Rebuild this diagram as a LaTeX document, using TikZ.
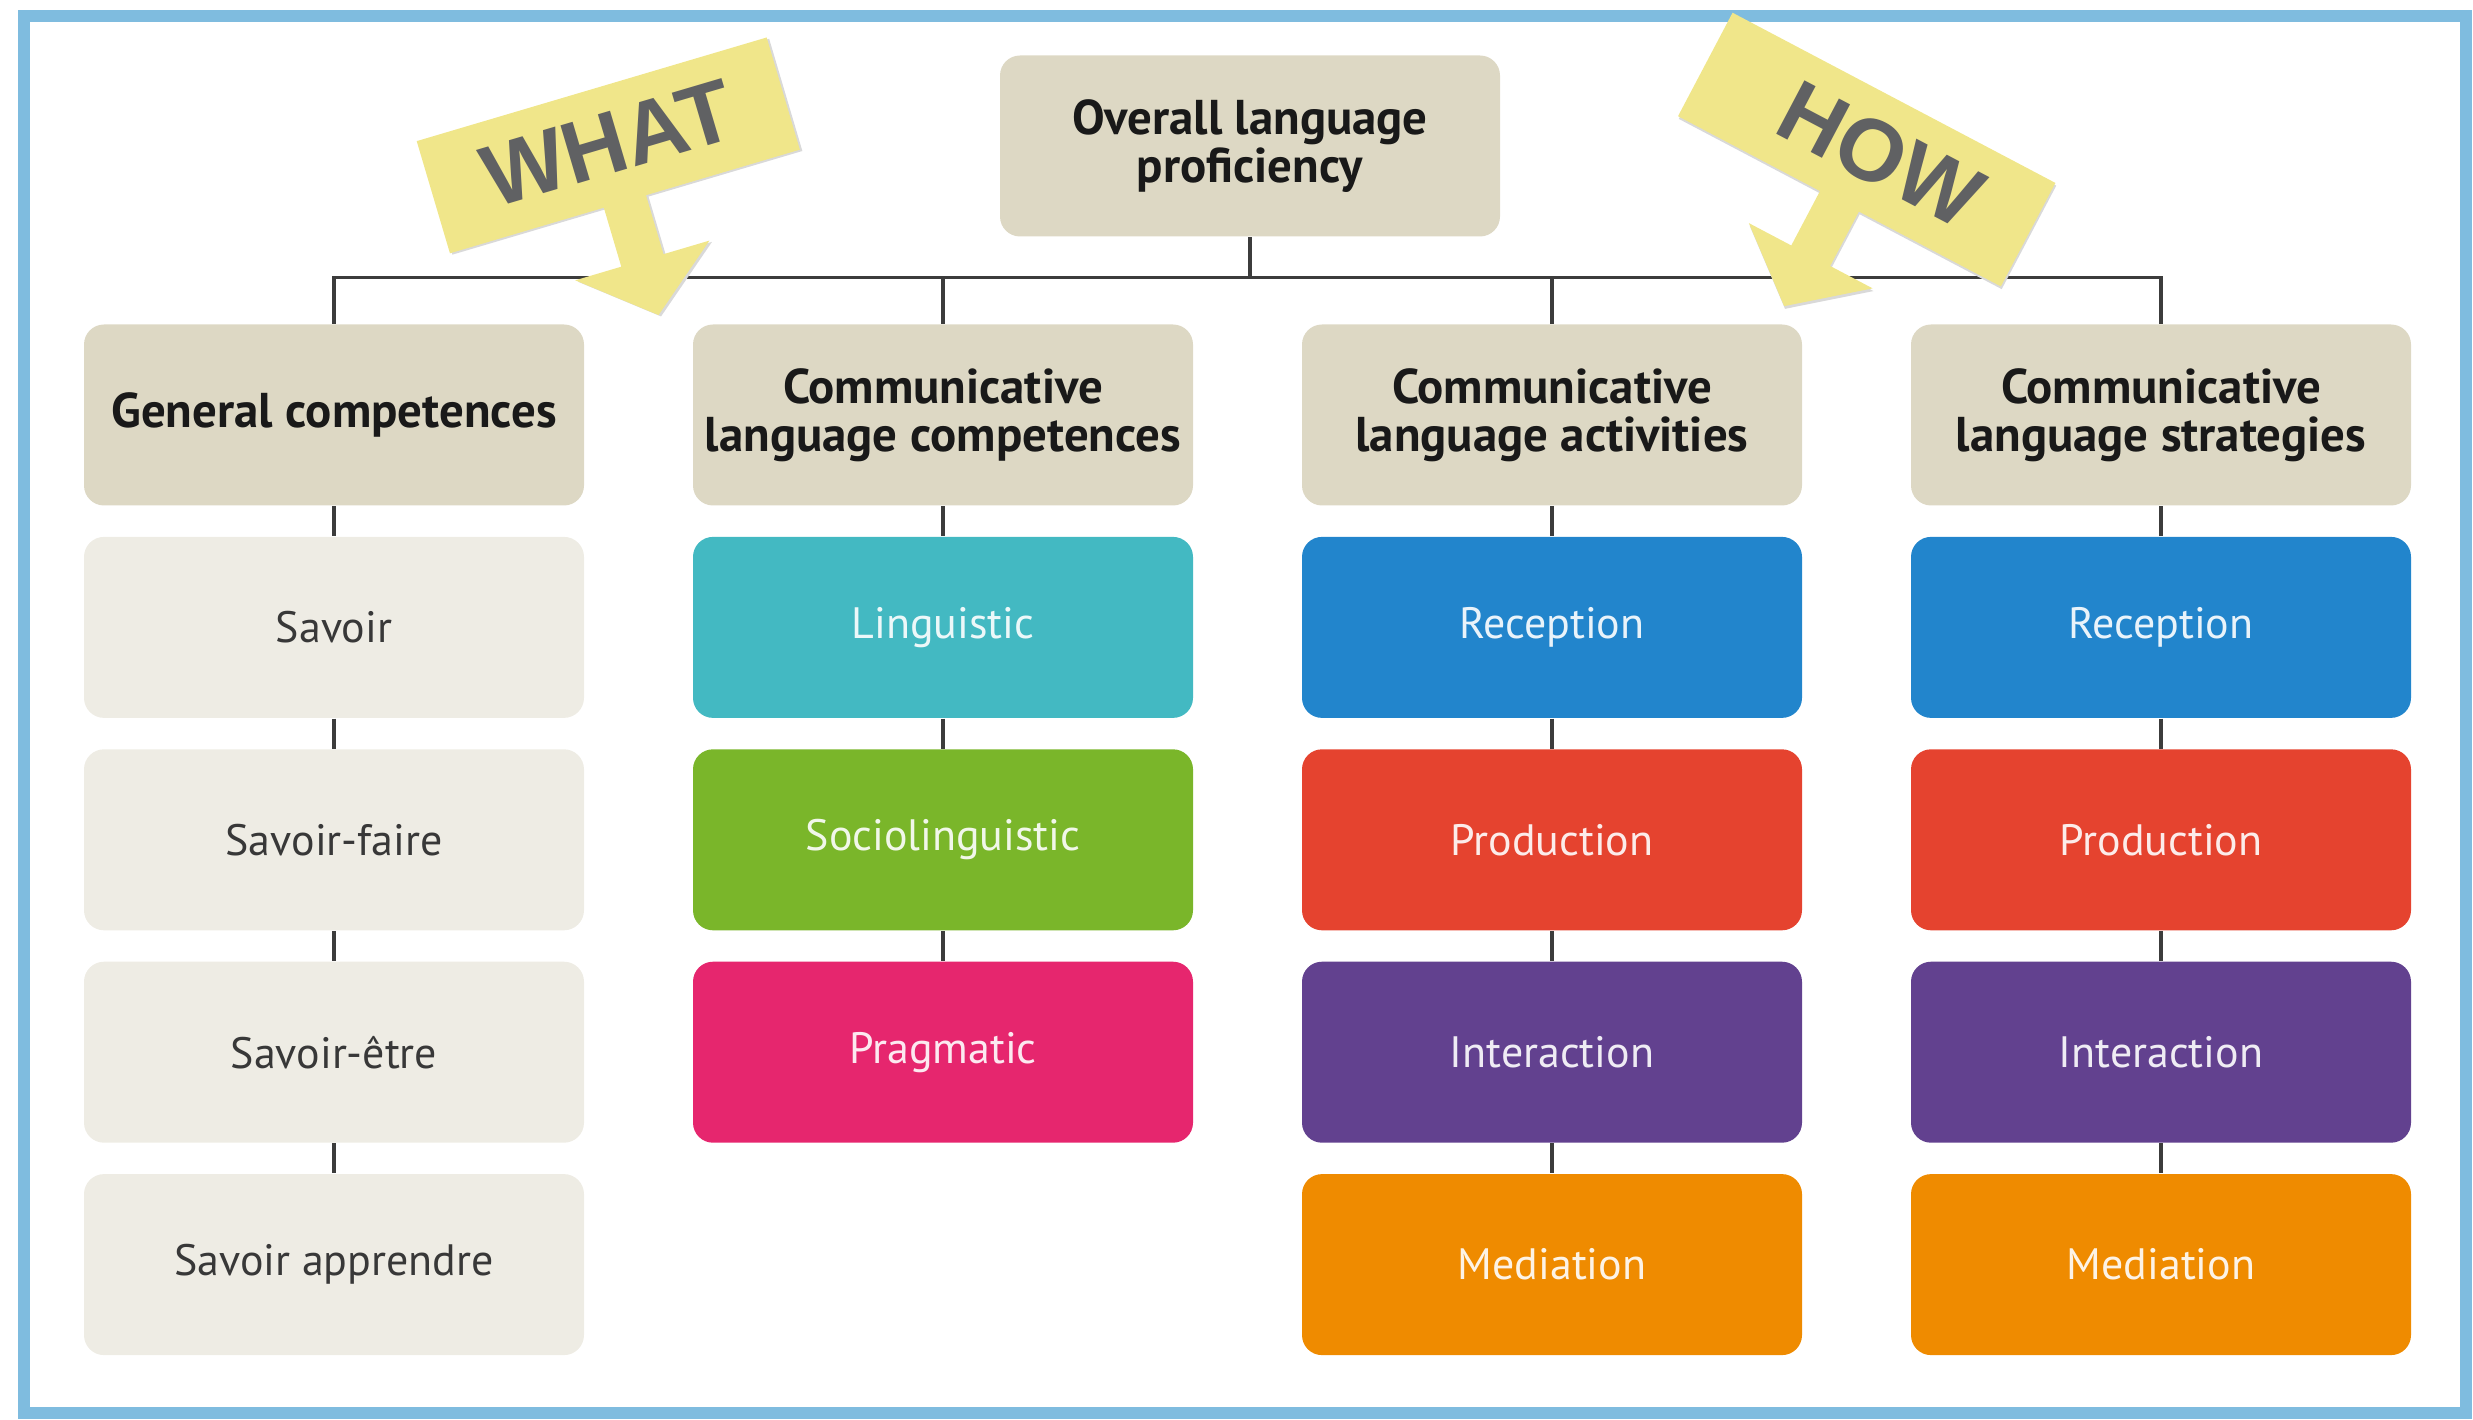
\documentclass[tikz,border=0pt]{standalone}
\usepackage{fontspec}
\setmainfont{PT Sans}
\newfontfamily\bannerfont{Liberation Sans}
\usetikzlibrary{positioning}
\definecolor{frameblue}{RGB}{127,188,223}
\definecolor{headbeige}{RGB}{221,216,196}
\definecolor{lightbox}{RGB}{238,236,228}
\definecolor{linkgray}{RGB}{60,60,60}
\definecolor{teal}{RGB}{67,185,194}
\definecolor{leaf}{RGB}{122,182,42}
\definecolor{pink}{RGB}{230,38,110}
\definecolor{blue}{RGB}{34,133,204}
\definecolor{red}{RGB}{229,67,47}
\definecolor{purple}{RGB}{98,65,143}
\definecolor{orange}{RGB}{239,139,0}
\definecolor{bannery}{RGB}{240,230,138}
\definecolor{bannertxt}{RGB}{96,97,99}

\begin{document}
\begin{tikzpicture}[
  box/.style={rounded corners=0.2cm, minimum width=5cm, minimum height=1.81cm, inner sep=2pt, align=center, font=\fontsize{12.5}{13.5}\selectfont},
  headbox/.style={box, fill=headbeige, text=black!90, font=\bfseries\fontsize{13.9}{13.6}\selectfont},
  greybox/.style={box, fill=lightbox, text=black!78},
  colbox/.style={box, fill=#1, text=white, text opacity=0.9},
  link/.style={draw=linkgray, line width=0.9pt},
  banner/.style={fill=bannery},
  bannerlabel/.style={text=bannertxt, font=\bannerfont\bfseries\fontsize{25}{25}\selectfont}
]
\useasboundingbox (0,0) rectangle (24.73,14.2);
\draw [frameblue, line width=0.12cm] (0.24,14.04) rectangle (24.66,0.07);

% top and headers
\node [headbox] (top) at (12.5,12.74) {Overall language\\proficiency};
\node [headbox] (gen) at (3.34,10.05) {General competences};
\node [headbox] (comp) at (9.43,10.05) {Communicative\\language competences};
\node [headbox] (act) at (15.52,10.05) {Communicative\\language activities};
\node [headbox] (strat) at (21.61,10.05) {Communicative\\language strategies};

% general competences
\node [greybox, below=0.30cm of gen] (sav) {Savoir};
\node [greybox, below=0.30cm of sav] (savf) {Savoir-faire};
\node [greybox, below=0.30cm of savf] (save) {Savoir-être};
\node [greybox, below=0.30cm of save] (sava) {Savoir apprendre};

% communicative language competences
\node [colbox=teal, below=0.30cm of comp] (ling) {Linguistic};
\node [colbox=leaf, below=0.30cm of ling] (socio) {Sociolinguistic};
\node [colbox=pink, below=0.30cm of socio] (prag) {Pragmatic};

% activities
\node [colbox=blue, below=0.30cm of act] (arec) {Reception};
\node [colbox=red, below=0.30cm of arec] (aprod) {Production};
\node [colbox=purple, below=0.30cm of aprod] (aint) {Interaction};
\node [colbox=orange, below=0.30cm of aint] (amed) {Mediation};

% strategies
\node [colbox=blue, below=0.30cm of strat] (srec) {Reception};
\node [colbox=red, below=0.30cm of srec] (sprod) {Production};
\node [colbox=purple, below=0.30cm of sprod] (sint) {Interaction};
\node [colbox=orange, below=0.30cm of sint] (smed) {Mediation};

% connectors
\coordinate [below=0.40cm of top.south] (bus);
\draw [link] (top.south) -- (bus);
\draw [link] (gen.north) |- (bus) -| (strat.north);
\draw [link] (comp.north) -- (comp.north |- bus);
\draw [link] (act.north) -- (act.north |- bus);
\draw [link] (gen) -- (sav) (sav) -- (savf) (savf) -- (save) (save) -- (sava);
\draw [link] (comp) -- (ling) (ling) -- (socio) (socio) -- (prag);
\draw [link] (act) -- (arec) (arec) -- (aprod) (aprod) -- (aint) (aint) -- (amed);
\draw [link] (strat) -- (srec) (srec) -- (sprod) (sprod) -- (sint) (sint) -- (smed);

% WHAT banner
\begin{scope}[shift={(6.083,12.746)}, rotate=16.5]
\fill [black!15] (-1.805,-0.605) -- (-0.2,-0.605) -- (-0.2,-1.22) -- (-0.68,-1.22) -- (0.02,-1.79) -- (0.72,-1.22) -- (0.24,-1.22) -- (0.24,-0.605) -- (1.845,-0.605) -- (1.845,0.565) -- (-1.805,0.565) -- cycle;
\fill [banner] (-1.825,-0.585) -- (-0.22,-0.585) -- (-0.22,-1.2) -- (-0.7,-1.2) -- (0,-1.77) -- (0.7,-1.2) -- (0.22,-1.2) -- (0.22,-0.585) -- (1.825,-0.585) -- (1.825,0.585) -- (-1.825,0.585) -- cycle;
\node [bannerlabel, rotate=16.5] (what) at (0,0.02) {WHAT};
\end{scope}

% HOW banner
\begin{scope}[shift={(18.667,12.704)}, rotate=-27.8]
\fill [black!15] (-1.805,-0.605) -- (-0.2,-0.605) -- (-0.2,-1.22) -- (-0.68,-1.22) -- (0.02,-1.79) -- (0.72,-1.22) -- (0.24,-1.22) -- (0.24,-0.605) -- (1.845,-0.605) -- (1.845,0.565) -- (-1.805,0.565) -- cycle;
\fill [banner] (-1.825,-0.585) -- (-0.22,-0.585) -- (-0.22,-1.2) -- (-0.7,-1.2) -- (0,-1.77) -- (0.7,-1.2) -- (0.22,-1.2) -- (0.22,-0.585) -- (1.825,-0.585) -- (1.825,0.585) -- (-1.825,0.585) -- cycle;
\node [bannerlabel, rotate=-27.8] (how) at (0.15,0.02) {HOW};
\end{scope}

\end{tikzpicture}
\end{document}
